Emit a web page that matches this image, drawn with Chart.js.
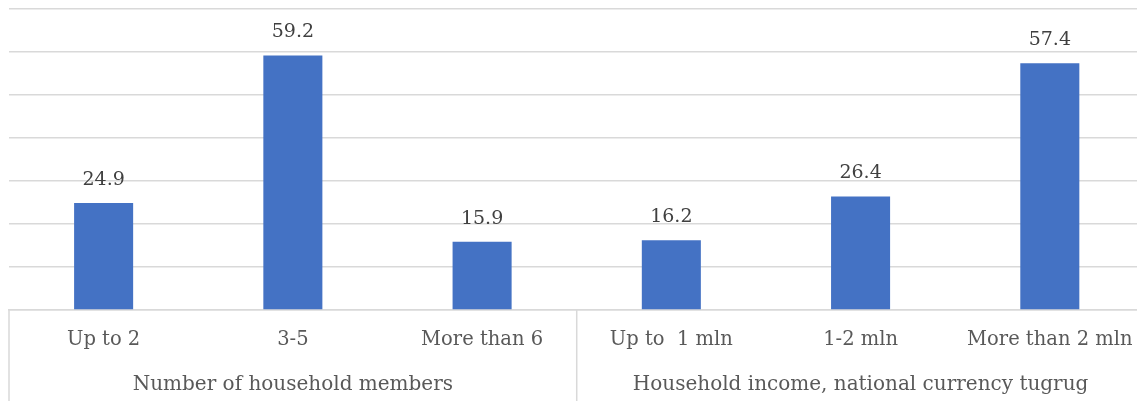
<!DOCTYPE html>
<html>
<head>
<meta charset="utf-8">
<script src="https://cdn.jsdelivr.net/npm/chart.js@4"></script>
<style>
    html, body { margin: 0; padding: 0; background: #fff; overflow: hidden; }
    #wrap { width: 1151px; height: 401px; }
</style>
</head>
<body>
<div id="wrap"><canvas id="barChart" width="1151" height="401"></canvas></div>
<script>
    const categories = ['Up to 2', '3-5', 'More than 6', 'Up to  1 mln', '1-2 mln', 'More than 2 mln'];
    const groups = ['Number of household members', 'Household income, national currency tugrug'];
    const groupSizes = [3, 3];
    const shares = [24.9, 59.2, 15.9, 16.2, 26.4, 57.4];
    const yTicks = [0, 70, 10]; // min, max, step

    const lineColor = '#d9d9d9';
    const serif = 'DejaVu Serif';

    // value above each bar
    const valueLabels = {
        id: 'valueLabels',
        afterDatasetsDraw(chart) {
            const ctx = chart.ctx;
            const meta = chart.getDatasetMeta(0);
            ctx.save();
            ctx.font = '19px "' + serif + '"';
            ctx.fillStyle = '#404040';
            ctx.textAlign = 'center';
            ctx.textBaseline = 'alphabetic';
            meta.data.forEach((bar, i) => {
                ctx.fillText(shares[i].toFixed(1), bar.x, bar.y - 18);
            });
            ctx.restore();
        }
    };

    // vertical separators of the two-level category axis
    const groupLines = {
        id: 'groupLines',
        afterDraw(chart) {
            const ctx = chart.ctx;
            const x = chart.scales.x;
            const half = (x.getPixelForTick(1) - x.getPixelForTick(0)) / 2;
            let edges = [x.getPixelForTick(0) - half];
            let idx = 0;
            groupSizes.forEach(n => {
                idx += n;
                edges.push(x.getPixelForTick(idx - 1) + half);
            });
            ctx.save();
            ctx.strokeStyle = lineColor;
            ctx.lineWidth = 1.5;
            edges.forEach(px => {
                ctx.beginPath();
                ctx.moveTo(px, x.top);
                ctx.lineTo(px, chart.height);
                ctx.stroke();
            });
            ctx.restore();
        }
    };

    new Chart(document.getElementById('barChart').getContext('2d'), {
        type: 'bar',
        data: {
            labels: categories,
            datasets: [{
                data: shares,
                backgroundColor: '#4472c4',
                borderWidth: 0,
                barPercentage: 0.312,
                categoryPercentage: 1.0,
                xAxisID: 'x'
            }]
        },
        options: {
            responsive: false,
            animation: false,
            layout: { padding: { left: 9, right: 2, top: 9, bottom: 1 } },
            plugins: {
                legend: { display: false },
                tooltip: { enabled: false }
            },
            scales: {
                x: {
                    type: 'category',
                    position: 'bottom',
                    weight: 0,
                    offset: true,
                    grid: { display: false, drawTicks: false },
                    border: { display: true, color: lineColor, width: 1.5 },
                    ticks: {
                        autoSkip: false,
                        maxRotation: 0,
                        padding: 18.3,
                        color: '#595959',
                        font: { family: serif, size: 19.5 }
                    }
                },
                x2: {
                    type: 'category',
                    position: 'bottom',
                    weight: 1,
                    labels: groups,
                    offset: true,
                    grid: { display: false, drawTicks: false },
                    border: { display: false },
                    ticks: {
                        autoSkip: false,
                        maxRotation: 0,
                        padding: 3,
                        color: '#595959',
                        font: { family: serif, size: 20 }
                    }
                },
                y: {
                    min: yTicks[0],
                    max: yTicks[1],
                    grid: { color: lineColor, lineWidth: 1.5, drawTicks: false },
                    border: { display: false },
                    ticks: { stepSize: yTicks[2], display: false }
                }
            }
        },
        plugins: [valueLabels, groupLines]
    });
</script>
</body>
</html>
